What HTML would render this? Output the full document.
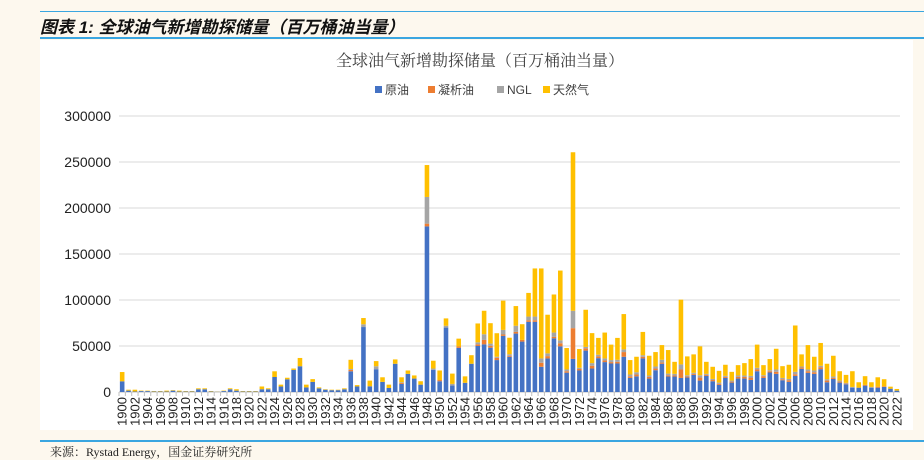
<!DOCTYPE html>
<html><head><meta charset="utf-8">
<style>
html,body{margin:0;padding:0;}
body{width:924px;height:456px;background:#fdf8ee;position:relative;overflow:hidden;font-family:"Liberation Sans","Noto Sans CJK SC",sans-serif;}
.line{position:absolute;left:40px;right:0;height:2px;background:#3aa6e0;}
#hdr{position:absolute;left:40px;top:13px;font-size:17px;font-style:italic;font-weight:bold;color:#111;font-family:"Liberation Sans","Noto Sans CJK SC",sans-serif;}
#panel{position:absolute;left:40px;top:40px;width:873px;height:390px;background:#fff;}
#foot{position:absolute;left:50px;top:443px;font-size:12px;color:#222;font-family:"Liberation Serif","Noto Serif CJK SC",serif;}
svg{position:absolute;left:0;top:0;}
</style></head><body>
<div class="line" style="top:11px;height:1px"></div>
<div id="hdr">图表 1:  全球油气新增勘探储量（百万桶油当量）</div>
<div class="line" style="top:37px"></div>
<div id="panel"></div>
<div class="line" style="top:440px"></div>
<div id="foot">来源：Rystad Energy，国金证券研究所</div>
<svg id="chart" width="924" height="456"></svg>
<script>
const years = [];
for (let y = 1900; y <= 2022; y++) years.push(y);
const crude = [11.6,1.5,0.5,1,1,0.5,0.5,0.5,1.5,0.5,0.5,0.5,3,3,0.5,0.3,1,3,1.5,0.5,0.5,0.5,3,3,16.3,6,13.8,24,28,5,11,4,2.5,2,2,3,22.5,6,70.6,6.2,24.8,11,4.4,30.7,8.8,19.7,14.6,8,180,24,11.7,70,7,48,10,30.7,50,51.8,48.2,34.7,61,38.3,63.5,54.8,76.3,76.3,27.4,36.5,58.4,49.6,21,36,23.4,45,25.5,36.8,32.5,31,31,38.3,15.3,17,36.5,14.6,23.7,30.7,16.8,16.8,15.3,15.7,18.6,12.4,17.5,11.7,7.7,15.3,10.2,14.6,14.6,13.1,22.6,15.3,21.2,19.7,12.8,11,17.5,25.2,20.8,19.7,24.8,10.6,14.2,10.2,8.4,4.7,4.7,6.9,4.4,4.7,5.5,3.6,1.5];
const condensate = [0,0,0,0,0,0,0,0,0,0,0,0,0,0,0,0,0,0,0,0,0,0,0,0,0,0,0,0,0,0,0,0,0,0,0,0,1.5,0,0,0,0,0,0,0,1,0,0,0,3,0,1.3,0,0,1.6,0,0,1.8,4.8,2,2.5,1.5,1,1.8,1.8,1.7,1.7,4.4,2.5,1.6,3.4,1.6,33.4,1.6,2.5,3,1.9,1.8,1.5,1.8,5.1,1.7,2,1.8,1.8,1.8,1.3,1.4,1.1,9.2,1.1,1.1,3.3,1.1,1.3,1.1,1.1,1.1,1.8,1.8,2.6,1.9,1.9,1.4,2.2,1.1,1.8,1.8,1.4,1.8,1.8,2.2,1.8,1.1,1.1,0.7,0,0,0.8,0,1.1,0.7,0,0];
const ngl = [0,0,0,0,0,0,0,0,0,0,0,0,0,0,0,0,0,0,0,0,0,0,0,0,0,0,0,0,0,0,0,0,0,0,0,0,1,0,3,0,3.2,0,0,0,0.8,0,0,0,29,1.5,0,2,1.8,0,0,0,2.2,6.2,2.4,1.1,5,1.7,6.7,0,4,4,4.7,3,4.6,3.2,1.9,18.9,1.3,1.5,2.9,1.8,2.2,2.2,2.2,2.9,2,2.5,1.7,1.5,2.2,3,1.8,1.8,5.5,1.4,1.1,2.5,1.1,1.2,1.4,1.1,1.1,1.5,1.5,1.8,1.8,1,1.1,2.6,1.4,1.4,2.6,1.1,1.9,1.9,1.5,1.5,1.5,1.1,0.8,0.8,0,0,1.1,0,0,0,0];
const gas = [10.1,1,2,0.5,0.5,0.5,0.5,1,0.5,1,0.5,0.5,1,1,0.5,0.2,0.5,1,1.5,0.5,0.5,0.5,3,1,6.2,2,1.7,1.5,9,3,3,1,0.5,0.5,0.5,1,10,1.5,6.8,6.2,5.6,5,3.6,4.7,5.4,3.7,3.4,3.7,34.7,8.5,10.4,8,11.2,8.4,7,9.3,20.5,25.5,22.2,25.6,31.8,18,21.4,17.1,25.7,52.3,97.8,42,41.4,75.8,23.3,172.3,20.4,40.4,32.6,18.3,28.1,16.8,23.8,38.4,15.7,16.8,25.3,21.5,15.7,16,25.6,13.1,70.4,20.5,20.1,31.4,13.1,13.2,12.8,12.1,9.5,11.3,13.5,18.3,25.2,11,12.1,22.5,12.8,15.4,50.4,13.2,26.5,14.9,24.8,16.8,22.6,10.2,8.7,17.1,5.9,9.5,5.1,10.2,7.7,2.2,1.8];
const yTicks = [0,50000,100000,150000,200000,250000,300000];
const seriesNames = ["原油","凝析油","NGL","天然气"];
const seriesColors = ["#4472c4","#ed7d31","#a5a5a5","#ffc000"];

const NS = "http://www.w3.org/2000/svg";
const svg = document.getElementById("chart");
const X0 = 119, X1 = 900, Y0 = 392, Y1 = 116, YMAX = 300000;
const step = (X1 - X0) / years.length;
const xs = i => X0 + step * i + step / 2;
const ys = v => Y0 - (v / YMAX) * (Y0 - Y1);
function mk(tag, attrs, parent) { const e = document.createElementNS(NS, tag); for (const k in attrs) e.setAttribute(k, attrs[k]); (parent || svg).appendChild(e); return e; }

// title
let t = mk("text", {x: 480, y: 66, "text-anchor": "middle", "font-size": 16, fill: "#404040", "font-family": "\"Liberation Serif\",\"Noto Serif CJK SC\",serif"});
t.textContent = "全球油气新增勘探储量（百万桶油当量）";



// legend
const legX = [375, 428, 497, 543];
seriesNames.forEach((n, i) => {
  const g = mk("g", {});
  
  
  mk("rect", {x: legX[i], y: 86, width: 7, height: 7, fill: seriesColors[i]}, g);
  const tx = mk("text", {x: legX[i] + 10, y: 94, "font-size": 12, fill: "#404040", "font-family": "\"Liberation Sans\",\"Noto Sans CJK SC\",sans-serif"}, g);
  tx.textContent = n;
});

// grid + y labels
yTicks.forEach(v => {
  if (v > 0) {
    const l = mk("line", {x1: X0, x2: X1, y1: ys(v), y2: ys(v), stroke: "#d9d9d9", "stroke-width": 1});
    
    
  }
  const tx = mk("text", {x: 111, y: ys(v) + 5, "text-anchor": "end", "font-size": 14, fill: "#222"});
  tx.textContent = String(v);
  
  
});
const ax = mk("line", {x1: X0, x2: X1, y1: Y0, y2: Y0, stroke: "#bfbfbf", "stroke-width": 1});



// bars
const bw = step * 0.72;
const series = [crude, condensate, ngl, gas];
years.forEach((yr, i) => {
  let base = 0;
  series.forEach((arr, s) => {
    const v = arr[i] * 1000;
    if (v <= 0) return;
    const r = mk("rect", {x: xs(i) - bw / 2, y: ys(base + v), width: bw, height: ys(base) - ys(base + v), fill: seriesColors[s]});
    
    
    base += v;
  });
  mk("line", {x1: X0 + step * i, x2: X0 + step * i, y1: Y0, y2: Y0 + 4, stroke: "#bfbfbf"});
  if (i % 2 === 0) {
    const tx = mk("text", {x: 0, y: 0, "text-anchor": "end", "font-size": 13, fill: "#222", transform: "translate(" + (xs(i) + 4.5) + "," + (Y0 + 5) + ") rotate(-90)"});
    tx.textContent = String(yr);
    
    
  }
});
</script>
</body></html>
